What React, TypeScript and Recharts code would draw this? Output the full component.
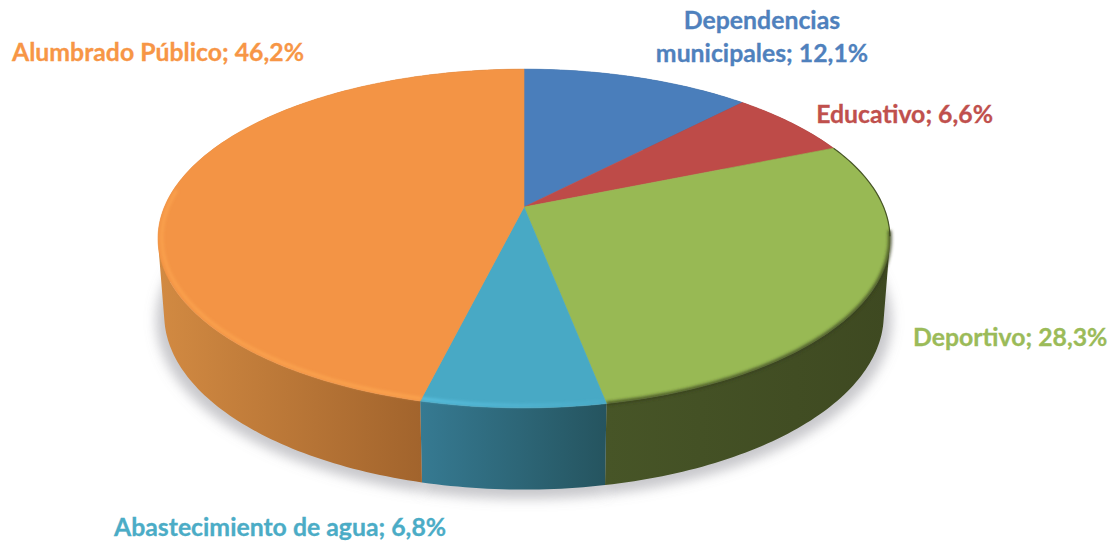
import { PieChart, Pie, Cell } from 'recharts'

// Spending share per sector, clockwise from 12 o'clock
const sectors = ['Dependencias municipales', 'Educativo', 'Deportivo', 'Abastecimiento de agua', 'Alumbrado Público']
const shares = [12.1, 6.6, 28.3, 6.8, 46.2]
const shareLabels = ['12,1%', '6,6%', '28,3%', '6,8%', '46,2%']

const topColors = ['#4a7ebb', '#be4b48', '#98b954', '#48a9c5', '#f39445']
const labelColors = ['#4f81bd', '#c0504d', '#9bbb59', '#4bacc6', '#f79646']
const wallFrom = ['#3a5f8c', '#8e3835', '#475527', '#367a92', '#d28a42']
const wallTo = ['#2c4a6e', '#702c2a', '#3e4921', '#25545f', '#8f5524']
const rimColors = ['#000000', '#000000', '#343f1b', '#5cc4e4', '#ffaa52']
const rimOpacityFrom = [0, 0, 0.75, 0.85, 0.6]
const rimOpacityTo = [0, 0, 0.75, 0.1, 0.7]

// Where each label line sits: [x, y, anchor]
const labelSpots: [number, number, string][] = [
  [762, 29, 'middle'],
  [993, 123, 'end'],
  [913, 346, 'start'],
  [114, 536, 'start'],
  [12, 61, 'start'],
]

const data = sectors.map((name, i) => ({ name, share: shares[i] }))

// Perspective of the disc: a circle seen from the front, nearer edge larger
const PERSPECTIVE = 0.186
const TOP_FACE = { a: 1, b: 0.4547, dy: 0 }
const BOTTOM_FACE = { a: 0.983, b: 0.469, dy: 75.4 }
const SHADOW_FACE = { a: 1.005, b: 0.48, dy: 80 }

type Face = typeof TOP_FACE
type Pt = [number, number]
type SliceProps = { cx: number; cy: number; outerRadius: number; startAngle: number; endAngle: number; index?: number }

const clockAngle = (pieAngle: number) => 90 - pieAngle

function project(s: SliceProps, face: Face, theta: number, r = 1): Pt {
  const rad = (theta * Math.PI) / 180
  const u = r * Math.sin(rad)
  const v = -r * Math.cos(rad)
  const w = 1 - PERSPECTIVE * v
  return [s.cx + (face.a * s.outerRadius * u) / w, s.cy + face.dy + (face.b * s.outerRadius * v) / w]
}

function arcPoints(s: SliceProps, face: Face, from: number, to: number, r = 1) {
  const pts: Pt[] = []
  const steps = Math.max(2, Math.ceil(Math.abs(to - from)))
  for (let i = 0; i <= steps; i++) pts.push(project(s, face, from + ((to - from) * i) / steps, r))
  return pts
}

const toPath = (pts: Pt[]) => pts.map((p) => `${p[0].toFixed(2)} ${p[1].toFixed(2)}`).join(' L ')

function signedArea(pts: Pt[]) {
  let sum = 0
  pts.forEach((p, i) => {
    const q = pts[(i + 1) % pts.length]
    sum += p[0] * q[1] - q[0] * p[1]
  })
  return sum
}

function ShadowSlice(props: any) {
  const pts = arcPoints(props, SHADOW_FACE, clockAngle(props.startAngle), clockAngle(props.endAngle))
  return <path d={`M ${props.cx} ${props.cy + 80} L ${toPath(pts)} Z`} fill="#85858e" fillOpacity={0.45} filter="url(#discShadow)" />
}

function WallSlice(props: any) {
  const from = clockAngle(props.startAngle)
  const to = clockAngle(props.endAngle)
  const i = props.index ?? 0
  const top = arcPoints(props, TOP_FACE, from, to)
  const bottom = arcPoints(props, BOTTOM_FACE, from, to)
  // One quad per step, all wound the same way so that none cancels another
  const quads = top.slice(1).map((p, k) => {
    const quad: Pt[] = [top[k], p, bottom[k + 1], bottom[k]]
    if (signedArea(quad) < 0) quad.reverse()
    return `M ${toPath(quad)} Z`
  })
  return (
    <g>
      <defs>
        <linearGradient id={`wall${i}`} x1="0" x2="1" y1="0" y2="0">
          <stop offset="0%" stopColor={wallFrom[i]} />
          <stop offset="100%" stopColor={wallTo[i]} />
        </linearGradient>
      </defs>
      <path d={quads.join(' ')} fill={`url(#wall${i})`} />
    </g>
  )
}

function TopSlice(props: any) {
  const from = clockAngle(props.startAngle)
  const to = clockAngle(props.endAngle)
  const i = props.index ?? 0
  const pts = arcPoints(props, TOP_FACE, from, to)
  // Bevel along the front of the disc only
  const rimFrom = Math.max(from, 98)
  const rimTo = Math.min(to, 276)
  const rim = rimOpacityFrom[i] > 0 ? arcPoints(props, TOP_FACE, rimFrom, rimTo, i === 2 ? 1 : 0.99) : null
  const thinEdge = i === 2 ? arcPoints(props, TOP_FACE, from, 100) : null
  return (
    <g>
      <defs>
        <linearGradient id={`rim${i}`} x1="0" x2="1" y1="0" y2="0">
          <stop offset="0%" stopColor={rimColors[i]} stopOpacity={rimOpacityFrom[i]} />
          <stop offset="100%" stopColor={rimColors[i]} stopOpacity={rimOpacityTo[i]} />
        </linearGradient>
      </defs>
      <path d={`M ${props.cx} ${props.cy} L ${toPath(pts)} Z`} fill={topColors[i]} stroke={topColors[i]} strokeWidth={0.6} />
      {rim && <path d={`M ${toPath(rim)}`} fill="none" stroke={`url(#rim${i})`} strokeWidth={i === 2 ? 4 : 3} filter="url(#rimBlur)" />}
      {thinEdge && <path d={`M ${toPath(thinEdge)}`} fill="none" stroke={rimColors[i]} strokeWidth={1.2} strokeOpacity={0.8} />}
    </g>
  )
}

function SliceLabel(props: any) {
  const i = props.index as number
  const [x, y, anchor] = labelSpots[i]
  const style = { fontFamily: 'Lato, sans-serif', fontWeight: 700, fontSize: 24.8, fill: labelColors[i], stroke: labelColors[i], strokeWidth: 0.3 }
  if (i === 0) {
    return (
      <text x={x} y={y} textAnchor={anchor as any} style={style}>
        <tspan x={x}>Dependencias</tspan>
        <tspan x={x} dy={33}>municipales; {shareLabels[i]}</tspan>
      </text>
    )
  }
  return (
    <text x={x} y={y} textAnchor={anchor as any} style={style}>
      {sectors[i]}; {shareLabels[i]}
    </text>
  )
}

export default function App() {
  const pieProps = {
    data,
    dataKey: 'share',
    nameKey: 'name',
    cx: 524,
    cy: 207,
    innerRadius: 0,
    outerRadius: 359.6,
    startAngle: 90,
    endAngle: -270,
    paddingAngle: 0,
    stroke: 'none',
    isAnimationActive: false,
  }
  return (
    <div style={{ position: 'absolute', left: 0, top: 0, width: 1110, height: 543, background: '#fff', overflow: 'hidden' }}>
      <PieChart width={1110} height={543} margin={{ top: 0, right: 0, bottom: 0, left: 0 }}>
        <defs>
          <filter id="discShadow" x="0" y="0" width="1110" height="543" filterUnits="userSpaceOnUse">
            <feGaussianBlur stdDeviation="6" />
          </filter>
          <filter id="rimBlur" x="0" y="0" width="1110" height="543" filterUnits="userSpaceOnUse">
            <feGaussianBlur stdDeviation="1.4" />
          </filter>
        </defs>
        <Pie {...pieProps} shape={ShadowSlice} legendType="none" />
        <Pie {...pieProps} shape={WallSlice} legendType="none" />
        <Pie {...pieProps} shape={TopSlice} label={SliceLabel} labelLine={false}>
          {sectors.map((name, i) => (
            <Cell key={name} fill={topColors[i]} />
          ))}
        </Pie>
      </PieChart>
    </div>
  )
}
